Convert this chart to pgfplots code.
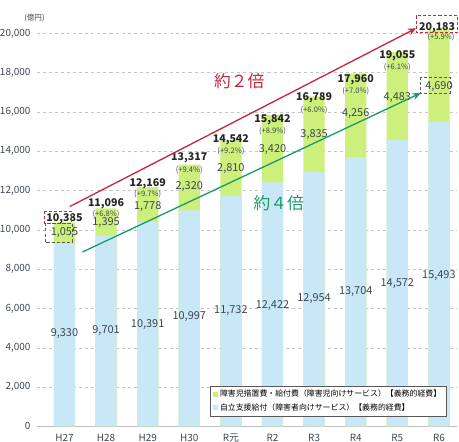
\documentclass[border=0pt]{standalone}
\usepackage{fontspec}
\setmainfont{Noto Sans CJK JP}
\usepackage{pgfplots}
\pgfplotsset{compat=1.18}
\usetikzlibrary{arrows.meta}

\definecolor{barblue}{HTML}{C8E8F8}
\definecolor{bargreen}{HTML}{CDF07C}
\definecolor{arrred}{HTML}{C4283C}
\definecolor{arrgreen}{HTML}{1B9B6B}
\definecolor{txt}{HTML}{3C4650}

\tikzset{
  vlab/.style={font=\fontsize{10.8}{11}\selectfont, text=txt},
  tlab/.style={font=\bfseries\fontsize{10.5}{11}\selectfont, text=black!85},
  plab/.style={font=\fontsize{7.5}{8}\selectfont, text=txt},
}

\begin{document}
\begin{tikzpicture}
\begin{axis}[
  ybar,
  bar width=21pt,
  bar shift=0pt,
  scale only axis,
  width=415pt,
  height=421pt,
  xmin=-0.67, xmax=9.43,
  ymin=0, ymax=21700,
  clip=false,
  xtick=data,
  xticklabels={H27,H28,H29,H30,R元,R2,R3,R4,R5,R6},
  ytick={0,2000,...,20000},
  scaled y ticks=false,
  yticklabel style={/pgf/number format/1000 sep={,}, /pgf/number format/assume math mode=true,
    font=\fontsize{9.8}{10}\selectfont, text=txt, inner xsep=0pt, xshift=-6pt},
  xticklabel style={font=\fontsize{9.8}{10}\selectfont, text=txt, anchor=base,
    inner sep=0pt, outer sep=0pt, text depth=0pt, yshift=-15pt},
  major tick length=0pt,
  axis y line*=left,
  axis x line*=bottom,
  y axis line style={draw=none},
  x axis line style={draw=gray!50},
  ymajorgrids,
  grid style={gray!45, dash pattern=on 3pt off 3pt},
  legend style={at={(0.412,0.095)}, anchor=north west,
    font=\fontsize{7.8}{8.5}\selectfont, draw=gray!70!black,
    inner xsep=3pt, inner ysep=2pt, row sep=1pt, cells={anchor=west}},
  legend image code/.code={\fill[#1,draw=none] (0pt,-2.5pt) rectangle (5pt,2.5pt);},
]
% green bars reach the totals, blue bars are drawn over them
\addplot[fill=bargreen, draw=none] coordinates {
  (0,10385) (1,11096) (2,12169) (3,13317) (4,14542)
  (5,15842) (6,16789) (7,17960) (8,19055) (9,20183)};
\addlegendentry{障害児措置費・給付費（障害児向けサービス）【義務的経費】}
\addplot[fill=barblue, draw=none] coordinates {
  (0,9330) (1,9701) (2,10391) (3,10997) (4,11732)
  (5,12422) (6,12954) (7,13704) (8,14572) (9,15493)};
\addlegendentry{自立支援給付（障害者向けサービス）【義務的経費】}

% values inside the blue part
\node[vlab] at (axis cs:0,4740) {9,330};
\node[vlab] at (axis cs:1,4850) {9,701};
\node[vlab] at (axis cs:2,5200) {10,391};
\node[vlab] at (axis cs:3,5570) {10,997};
\node[vlab] at (axis cs:4,5880) {11,732};
\node[vlab] at (axis cs:5,6130) {12,422};
\node[vlab] at (axis cs:6,6500) {12,954};
\node[vlab] at (axis cs:7,6860) {13,704};
\node[vlab] at (axis cs:8,7270) {14,572};
\node[vlab] at (axis cs:9,7680) {15,493};
% values in the green part
\node[vlab] at (axis cs:0,9850) {1,055};
\node[vlab] at (axis cs:1,10360) {1,395};
\node[vlab] at (axis cs:2,11180) {1,778};
\node[vlab] at (axis cs:3,12200) {2,320};
\node[vlab] at (axis cs:4,13100) {2,810};
\node[vlab] at (axis cs:5,14100) {3,420};
\node[vlab] at (axis cs:6,14850) {3,835};
\node[vlab] at (axis cs:7,15900) {4,256};
\node[vlab] at (axis cs:8,16750) {4,483};
\node[vlab] at (axis cs:9,17300) {4,690};

% totals
\node[tlab] at (axis cs:0,10560) {10,385};
\node[tlab] at (axis cs:1,11350) {11,096};
\node[tlab] at (axis cs:2,12370) {12,169};
\node[tlab] at (axis cs:3,13660) {13,317};
\node[tlab] at (axis cs:4,14600) {14,542};
\node[tlab] at (axis cs:5,15600) {15,842};
\node[tlab] at (axis cs:6,16700) {16,789};
\node[tlab] at (axis cs:7,17630) {17,960};
\node[tlab] at (axis cs:8,18870) {19,055};
\node[tlab, anchor=east, inner xsep=1pt] at (axis cs:9.42,20300) {20,183};
\node[plab] at (axis cs:1,10800) {(+6.8\%)};
\node[plab] at (axis cs:2,11800) {(+9.7\%)};
\node[plab] at (axis cs:3,13040) {(+9.4\%)};
\node[plab] at (axis cs:4,14000) {(+9.2\%)};
\node[plab] at (axis cs:5,15000) {(+8.9\%)};
\node[plab] at (axis cs:6,16080) {(+6.0\%)};
\node[plab] at (axis cs:7,17060) {(+7.0\%)};
\node[plab] at (axis cs:8,18300) {(+6.1\%)};
\node[plab] at (axis cs:9.05,19800) {(+5.9\%)};

% dashed boxes
\draw[arrred, densely dashed, thick] (axis cs:-0.47,10950) rectangle (axis cs:0.17,10330);
\draw[gray!70!black, densely dashed] (axis cs:-0.47,10330) rectangle (axis cs:0.18,9380);
\draw[arrred, densely dashed, thick, overlay] (axis cs:8.45,20900) rectangle (axis cs:9.45,20050);
\draw[gray!70!black, densely dashed] (axis cs:8.55,17780) rectangle (axis cs:9.27,16950);

% arrows
\draw[arrred, line width=1.3pt, -{Stealth[length=8pt,width=7pt]}]
  (axis cs:0.13,11190) -- (axis cs:8.45,20260);
\draw[arrgreen, line width=1.3pt, -{Stealth[length=8pt,width=7pt]}]
  (axis cs:0.43,8870) -- (axis cs:8.56,16960);
\node[text=arrred, font=\fontsize{16.5}{17}\selectfont] at (axis cs:4.2,17560) {約２倍};
\node[text=arrgreen, font=\fontsize{16.5}{17}\selectfont] at (axis cs:5.15,11380) {約４倍};

% unit
\node[plab] at (axis cs:-0.72,20800) {(億円)};
\end{axis}
\end{tikzpicture}
\end{document}
